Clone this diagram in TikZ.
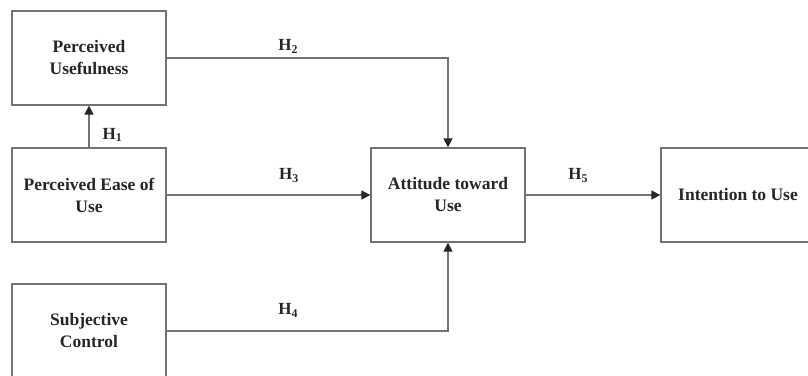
\documentclass[tikz,border=0pt]{standalone}
\usepackage{fontspec}
\setmainfont{Liberation Serif}
\usetikzlibrary{arrows.meta}
\tikzset{
  box/.style={draw=black!55, line width=1.3pt, fill=white, minimum width=154pt, minimum height=94pt,
    inner sep=0pt, align=center, font=\fontsize{17.5}{22}\selectfont\bfseries, text=black!85},
  link/.style={draw=black!55, line width=1.3pt, -{Triangle[length=9pt,width=9pt,color=black!85]}},
  hlab/.style={font=\fontsize{17}{20}\selectfont\bfseries, text=black!85, inner sep=0pt}
}
\begin{document}
\begin{tikzpicture}[x=1pt,y=-1pt]
\useasboundingbox (0,0) rectangle (808,375);
\clip (0,0) rectangle (808,375);
\node[box] (pu)  at (89,58)  {Perceived\\Usefulness};
\node[box] (peu) at (89,195) {Perceived Ease of\\Use};
\node[box] (sc)  at (89,331) {Subjective\\Control};
\node[box] (atu) at (448,195) {Attitude toward\\Use};
\node[box] (iu)  at (738,195) {Intention to Use};

\draw[link] (peu.north) -- node[hlab, pos=0.3, right=13pt] (h1) {H\textsubscript{1}} (pu.south);
\draw[link] (pu.east) -| node[hlab, pos=0.216, above=4pt] (h2) {H\textsubscript{2}} (atu.north);
\draw[link] (peu.east) -- node[hlab, pos=0.6, above=12pt] (h3) {H\textsubscript{3}} (atu.west);
\draw[link] (sc.east) -| node[hlab, pos=0.216, above=13pt] (h4) {H\textsubscript{4}} (atu.south);
\draw[link] (atu.east) -- node[hlab, pos=0.39, above=12pt] (h5) {H\textsubscript{5}} (iu.west);
\end{tikzpicture}
\end{document}
